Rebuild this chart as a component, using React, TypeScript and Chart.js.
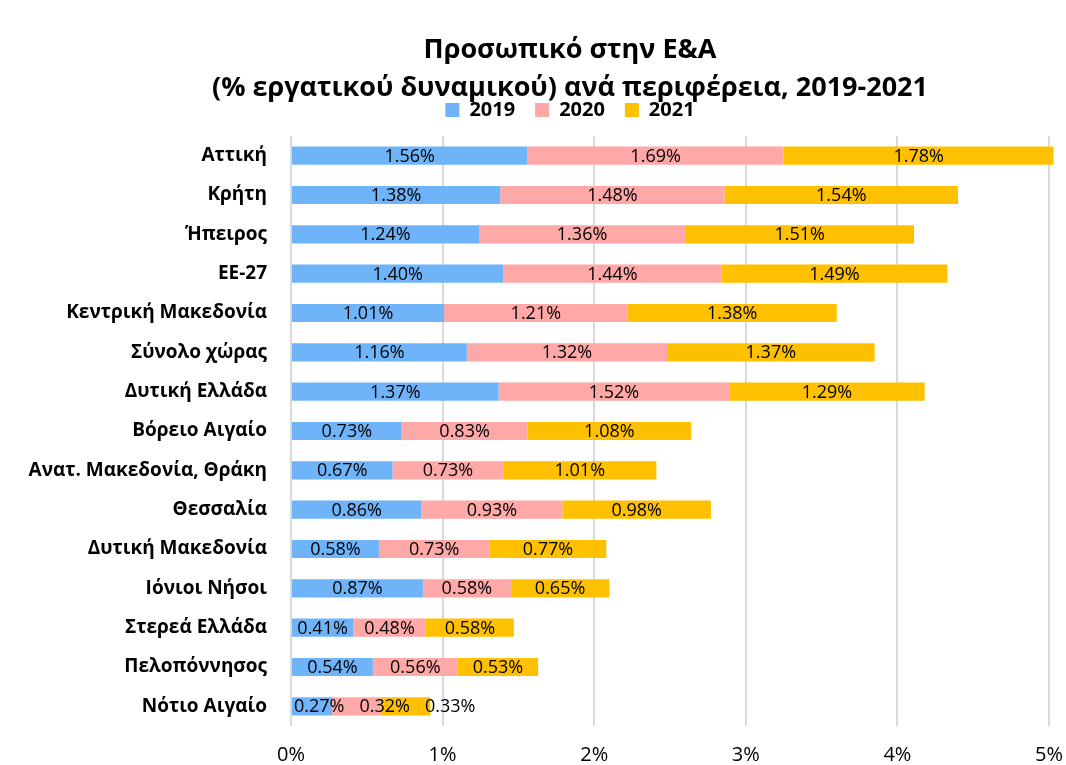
import { useEffect, useRef } from "react";
import { Chart, registerables } from "chart.js";

Chart.register(...registerables);

const titleLines = ["Προσωπικό στην Ε&Α", "(% εργατικού δυναμικού) ανά περιφέρεια, 2019-2021"];

const categories = [
  "Αττική",
  "Κρήτη",
  "Ήπειρος",
  "ΕΕ-27",
  "Κεντρική Μακεδονία",
  "Σύνολο χώρας",
  "Δυτική Ελλάδα",
  "Βόρειο Αιγαίο",
  "Ανατ. Μακεδονία, Θράκη",
  "Θεσσαλία",
  "Δυτική Μακεδονία",
  "Ιόνιοι Νήσοι",
  "Στερεά Ελλάδα",
  "Πελοπόννησος",
  "Νότιο Αιγαίο",
];

const seriesNames = ["2019", "2020", "2021"];
const values2019 = [1.56, 1.38, 1.24, 1.4, 1.01, 1.16, 1.37, 0.73, 0.67, 0.86, 0.58, 0.87, 0.41, 0.54, 0.27];
const values2020 = [1.69, 1.48, 1.36, 1.44, 1.21, 1.32, 1.52, 0.83, 0.73, 0.93, 0.73, 0.58, 0.48, 0.56, 0.32];
const values2021 = [1.78, 1.54, 1.51, 1.49, 1.38, 1.37, 1.29, 1.08, 1.01, 0.98, 0.77, 0.65, 0.58, 0.53, 0.33];
const seriesColors = ["#6fb4f8", "#ffa8a8", "#ffc000"];

const xMin = 0;
const xMax = 5;
const xStep = 1;

const FONT = "'Open Sans', 'Noto Sans', sans-serif";

const segmentLabels = {
  id: "segmentLabels",
  afterDatasetsDraw(chart: any) {
    const ctx = chart.ctx;
    ctx.save();
    ctx.font = `18px ${FONT}`;
    ctx.fillStyle = "#000";
    ctx.textBaseline = "middle";
    ctx.textAlign = "left";
    const n = chart.data.labels.length;
    for (let i = 0; i < n; i++) {
      let prevEnd = -Infinity;
      chart.data.datasets.forEach((ds: any, di: number) => {
        const bar: any = chart.getDatasetMeta(di).data[i];
        if (!bar) return;
        const v = ds.data[i];
        const text = v.toFixed(2) + "%";
        const w = ctx.measureText(text).width;
        const start = Math.min(bar.x, bar.base);
        const end = Math.max(bar.x, bar.base);
        let left = (start + end) / 2 - w / 2;
        if (di === 0) left = Math.max(left, start + 2);
        left = Math.max(left, prevEnd + 15);
        ctx.fillText(text, left, bar.y + 1);
        prevEnd = left + w;
      });
    }
    ctx.restore();
  },
};

export default function App() {
  const canvasRef = useRef<HTMLCanvasElement | null>(null);

  useEffect(() => {
    if (!canvasRef.current) return;
    Chart.defaults.font.family = FONT;
    const chart = new Chart(canvasRef.current, {
      type: "bar",
      data: {
        labels: categories,
        datasets: [values2019, values2020, values2021].map((vals, k) => ({
          label: seriesNames[k],
          data: vals,
          backgroundColor: seriesColors[k],
          borderWidth: 0,
          categoryPercentage: 0.46,
          barPercentage: 1,
          clip: false as any,
        })),
      },
      options: {
        indexAxis: "y",
        responsive: false,
        animation: false,
        layout: { padding: { left: 91, right: 17, top: 0, bottom: 0 } },
        scales: {
          x: {
            type: "linear",
            stacked: true,
            min: xMin,
            max: xMax,
            position: "bottom",
            grid: { color: "#d9d9d9", lineWidth: 2, drawTicks: false },
            border: { display: false },
            ticks: {
              stepSize: xStep,
              padding: 17,
              color: "#000",
              font: { size: 20 },
              callback: (v: any) => v + "%",
            },
            afterFit: (s: any) => {
              s.height = 39;
              s.paddingLeft = 0;
              s.paddingRight = 0;
            },
          },
          x2: {
            type: "linear",
            position: "top",
            display: true,
            grid: { display: false, drawTicks: false },
            border: { display: false },
            ticks: { display: false },
            afterFit: (s: any) => {
              s.height = 6;
              s.paddingLeft = 0;
              s.paddingRight = 0;
            },
          },
          y: {
            stacked: true,
            grid: { display: false, drawTicks: false },
            border: { display: false },
            ticks: {
              padding: 24,
              color: "#000",
              font: { size: 19, weight: "bold" },
              autoSkip: false,
            },
            afterFit: (s: any) => {
              s.width = 200;
              // let the long category labels extend past the axis box
              s._computeLabelArea = () => undefined;
            },
          },
        },
        plugins: {
          title: {
            display: true,
            text: titleLines,
            color: "#000",
            font: { size: 27, weight: "bold", lineHeight: 38 / 27 },
            padding: { top: 31, bottom: -27 },
          },
          legend: {
            display: true,
            position: "top",
            labels: {
              color: "#000",
              font: { size: 20, weight: "bold" },
              boxWidth: 14,
              boxHeight: 14,
              padding: 20,
            },
          },
          tooltip: { enabled: false },
        },
      } as any,
      plugins: [segmentLabels],
    });
    return () => chart.destroy();
  }, []);

  return (
    <div style={{ position: "fixed", left: 0, top: 0, width: 1066, height: 765, background: "#fff" }}>
      <canvas ref={canvasRef} width={1066} height={765} style={{ display: "block" }} />
    </div>
  );
}
